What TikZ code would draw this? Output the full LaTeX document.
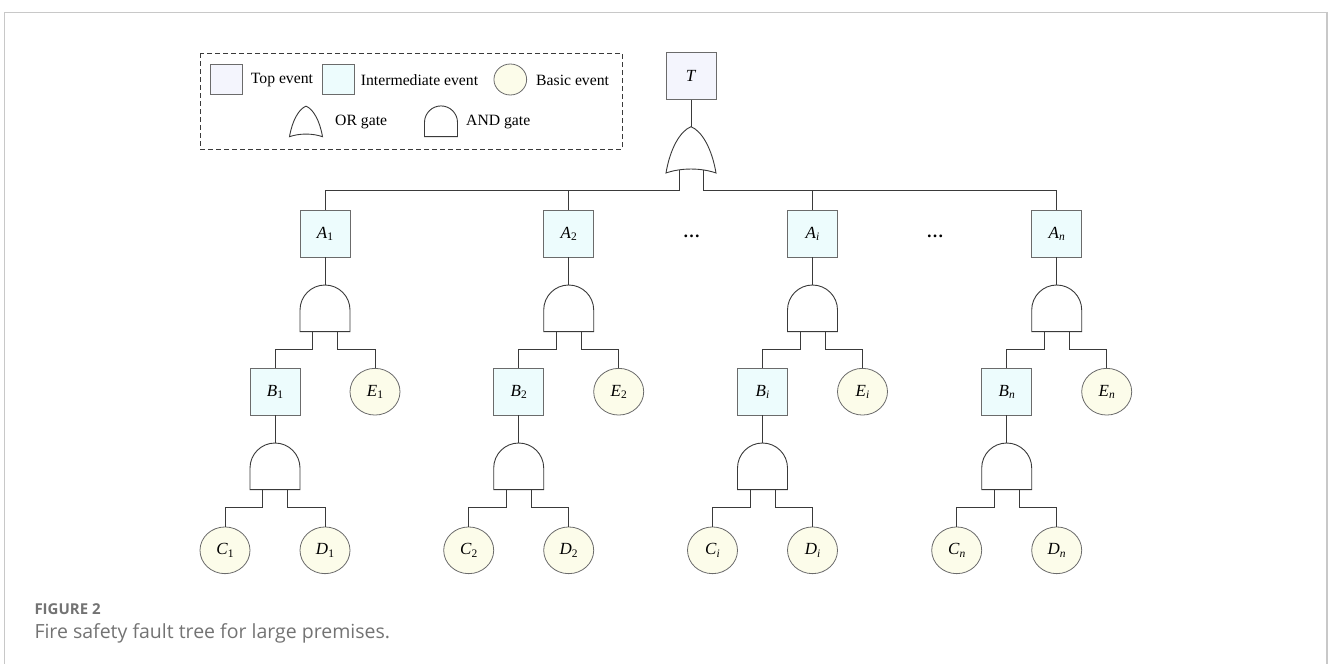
\documentclass[tikz,border=0pt]{standalone}
\usepackage{fontspec}
\setmainfont{Liberation Serif}
\newfontfamily\capfont{Open Sans}
\usetikzlibrary{shapes.geometric}

\definecolor{topfill}{HTML}{F4F5FD}
\definecolor{midfill}{HTML}{EDFCFD}
\definecolor{basefill}{HTML}{FCFCEA}
\definecolor{edgegray}{HTML}{6B6B6B}
\definecolor{wiregray}{HTML}{3A3A3A}
\definecolor{framegray}{HTML}{C8C8C8}
\definecolor{capgray}{HTML}{737373}

% event label: italic letter with a small lowered index
\newcommand\ev[2]{\textit{#1}\raisebox{-2.5pt}{\fontsize{11.5}{12}\selectfont #2}}

\tikzset{
  wire/.style={draw=wiregray, line width=0.9pt},
  gate/.style={draw=wiregray, line width=0.9pt, fill=white},
  topev/.style={draw=edgegray, fill=topfill, line width=0.8pt, minimum width=50pt,
    minimum height=46.7pt, inner sep=0pt, font=\fontsize{17}{20}\selectfont},
  midev/.style={topev, fill=midfill},
  baseev/.style={ellipse, draw=edgegray, fill=basefill, line width=0.8pt,
    minimum width=50pt, minimum height=46.7pt, inner sep=0pt,
    font=\fontsize{17}{20}\selectfont},
  legtext/.style={anchor=west, inner sep=0pt, font=\fontsize{15.7}{18}\selectfont},
  andgate/.pic={
    \draw[gate] (-25,-23.3) -- (-25,-1.7) arc[start angle=180, end angle=0, radius=25]
      -- (25,-23.3) -- cycle;
    \coordinate (-in) at (0,23.3);
    \coordinate (-l) at (-12.5,-23.3);
    \coordinate (-r) at (12.5,-23.3);
  },
  orgate/.pic={
    \draw[gate] (-25,0) .. controls (-21,24) and (-11,42) .. (0,46.3)
      .. controls (11,42) and (21,24) .. (25,0)
      .. controls (10,5.3) and (-10,5.3) .. (-25,0) -- cycle;
    \coordinate (-in) at (0,46.3);
    \coordinate (-l) at (-12,3.3);
    \coordinate (-r) at (12,3.3);
  },
}

\begin{document}
\begin{tikzpicture}[x=1pt, y=1pt]
\useasboundingbox (0,0) rectangle (1328,-664);

% panel frame, open at the bottom
\draw[framegray, line width=1.2pt] (4.5,-664) -- (4.5,-12.5) -- (1327,-12.5) -- (1327,-664);

% legend
\draw[wiregray, line width=0.8pt, dash pattern=on 5pt off 3pt] (200,-53.3) rectangle (622.3,-149);
\node[topev, minimum width=32pt, minimum height=30pt] (ltop) at (226,-79) {};
\node[legtext] (ltopt) at (250.7,-80.5) {Top event};
\node[midev, minimum width=32pt, minimum height=30pt] (lmid) at (338.7,-79) {};
\node[legtext] (lmidt) at (360.7,-80.5) {Intermediate event};
\node[baseev, minimum width=32.7pt, minimum height=31pt] (lbase) at (510.3,-79.5) {};
\node[legtext] (lbaset) at (536,-80.5) {Basic event};
\pic[scale=0.66] (lor) at (306,-136.7) {orgate};
\node[legtext] (lort) at (335,-121.7) {OR gate};
\pic[scale=0.66] (land) at (441,-121.3) {andgate};
\node[legtext] (landt) at (466,-121.7) {AND gate};

% top event and its OR gate
\node[topev] (T) at (691,-76) {\textit{T}};
\pic (org) at (691,-173) {orgate};
\draw[wire] (T.south) -- (org-in);
\coordinate (bus) at (0,-190.7);

% one branch per A event
\foreach \k/\x/\s in {1/325/1, 2/568.7/2, 3/812.5/{\textit{i}}, 4/1056.7/{\textit{n}}}{
  \node[midev] (A\k) at (\x,-233.7) {\ev{A}{\s}};
  \pic (ga\k) at (\x,-308.3) {andgate};
  \node[midev] (B\k) at (\x-50,-391.7) {\ev{B}{\s}};
  \node[baseev] (E\k) at (\x+50,-391.7) {\ev{E}{\s}};
  \pic (gb\k) at (\x-50,-466.3) {andgate};
  \node[baseev] (C\k) at (\x-100,-550.3) {\ev{C}{\s}};
  \node[baseev] (D\k) at (\x,-550.3) {\ev{D}{\s}};
  \draw[wire] (A\k.south) -- (ga\k-in);
  \draw[wire] (ga\k-l) -- ++(0,-17.5) -| (B\k.north);
  \draw[wire] (ga\k-r) -- ++(0,-17.5) -| (E\k.north);
  \draw[wire] (B\k.south) -- (gb\k-in);
  \draw[wire] (gb\k-l) -- ++(0,-17.6) -| (C\k.north);
  \draw[wire] (gb\k-r) -- ++(0,-17.6) -| (D\k.north);
}

% bus from the OR gate to the A events
\draw[wire] (org-l) |- (bus -| A1.north) -- (A1.north);
\draw[wire] (org-r) |- (bus -| A4.north) -- (A4.north);
\draw[wire] (A2.north) -- (bus -| A2.north);
\draw[wire] (A3.north) -- (bus -| A3.north);

% ellipses between branches
\node[font=\fontsize{17}{20}\selectfont, inner sep=0pt, anchor=base] (dots1) at (691.7,-237) {\textbf{\dots}};
\node[font=\fontsize{17}{20}\selectfont, inner sep=0pt, anchor=base] (dots2) at (935,-237) {\textbf{\dots}};

% caption
\node[anchor=base west, inner sep=0pt, text=capgray, font=\capfont\bfseries\fontsize{15}{18}\selectfont] (fig) at (34.3,-614) {FIGURE 2};
\node[anchor=base west, inner sep=0pt, text=capgray, font=\capfont\fontsize{19.5}{23}\selectfont] (cap) at (34.3,-638.3) {Fire safety fault tree for large premises.};
\end{tikzpicture}
\end{document}
